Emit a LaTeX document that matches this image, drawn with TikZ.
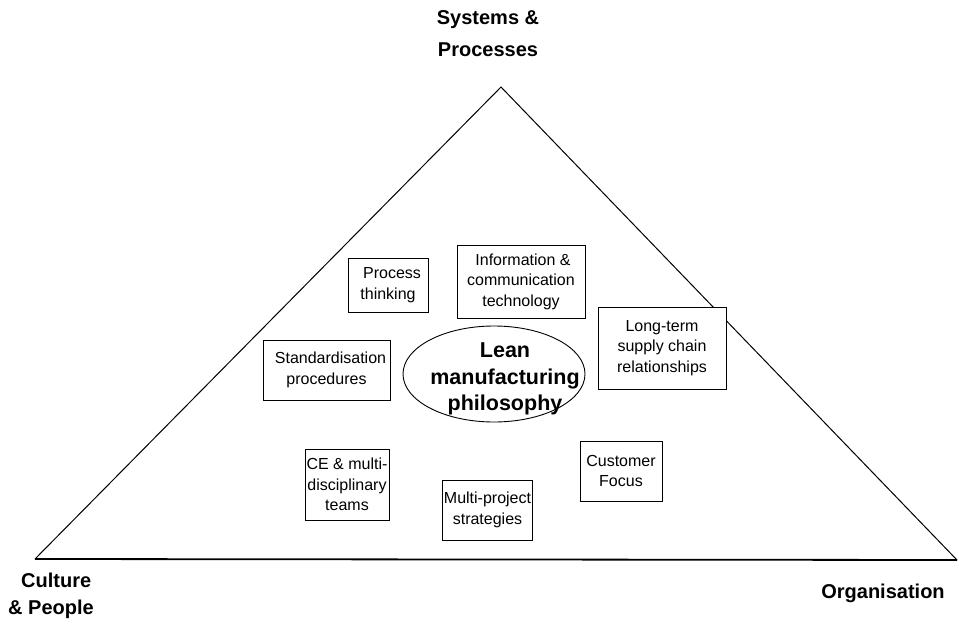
\documentclass[tikz,border=0pt]{standalone}
\usepackage{fontspec}
\setmainfont{Liberation Sans}
\usetikzlibrary{shapes.geometric, positioning}

\begin{document}
\begin{tikzpicture}[
  x=1pt, y=-1pt,
  box/.style={draw=black, fill=white, rectangle, align=center, inner sep=1pt,
              font=\fontsize{16}{20.5}\selectfont, line width=0.9pt},
  hub/.style={draw=black, fill=white, ellipse, inner sep=0pt,
              minimum width=182pt, minimum height=96pt, line width=0.9pt},
  hubtext/.style={align=center, inner sep=0pt,
              font=\bfseries\fontsize{21.5}{26.5}\selectfont},
  corner/.style={font=\bfseries\fontsize{20}{32}\selectfont, align=center, inner sep=0pt}]

\useasboundingbox (0,0) rectangle (959,624);

% --- the pyramid and its three corners
\coordinate (top) at (501,87);
\coordinate (bl) at (35,559);
\coordinate (br) at (957,560);
\draw[line width=1pt] (bl) -- (top) -- (br);
\draw[line width=1.8pt] (bl) -- (br);

\node[corner] (sys) at (488,34) {Systems \&\\Processes};
\node[corner, anchor=west] (culture) at (21,580) {Culture};
\node[corner, anchor=west] (people) at (8,609) {\& People};
\node[corner] (org) at (883,593) {Organisation};

% --- centre: the philosophy
\node[hub] (lean) at (494,374) {};
\node[hubtext] (leantext) at (505,379) {Lean\\manufacturing\\philosophy};

% --- the boxes around it
\node[box, minimum width=128pt, minimum height=73pt] (ict) at (521,281.5)
  {\hspace*{4pt}Information \&\\communication\\technology};
\node[box, minimum width=80pt, minimum height=54pt] (proc) at (388,285)
  {\hspace*{8pt}Process\\thinking};
\node[box, minimum width=128pt, minimum height=82pt] (supply) at (662,348)
  {Long-term\\supply chain\\relationships};
\node[box, minimum width=127pt, minimum height=60pt] (std) at (326.5,370)
  {\hspace*{8pt}Standardisation\\procedures};
\node[box, minimum width=84pt, minimum height=71pt] (ce) at (347,484.5)
  {CE \& multi-\\disciplinary\\teams};
\node[box, minimum width=81pt, minimum height=60pt] (multi) at (487.5,510)
  {Multi-project\\strategies};
\node[box, minimum width=82pt, minimum height=60pt] (cust) at (621,471)
  {Customer\\Focus};
\end{tikzpicture}
\end{document}
